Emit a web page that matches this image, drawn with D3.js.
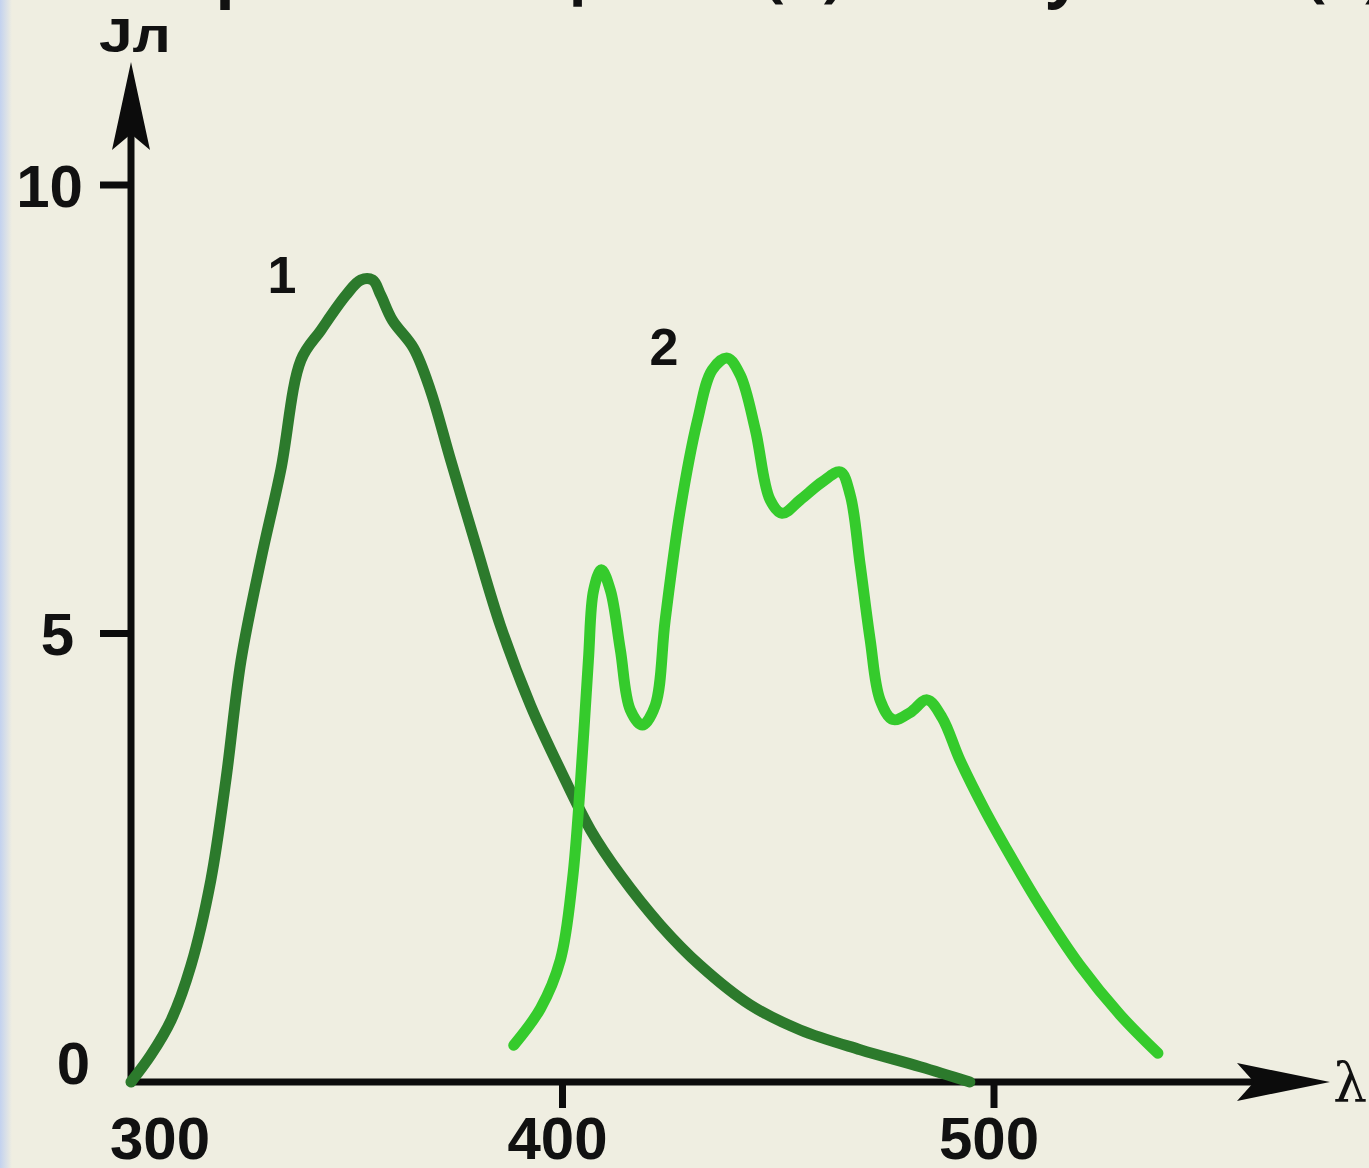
<!DOCTYPE html>
<html>
<head>
<meta charset="utf-8">
<script src="https://cdn.jsdelivr.net/npm/d3@7"></script>
<style>
  html, body { margin: 0; padding: 0; background: #efeee1; }
  svg { display: block; }
  text { font-family: "Liberation Sans", Arial, sans-serif; font-weight: bold; fill: #111; }
</style>
</head>
<body>
<script>
// data: wavelength (nm) vs intensity
var lambda1 = [300, 304.6, 309.3, 313.9, 318.5, 322, 325.5, 330.1, 334.7, 339.4, 344, 349.8, 353.2, 356, 357.9, 360.6, 365.5, 369.4, 374.1, 379.9, 385.6, 392.6, 399.5, 406.5, 413.4, 422.7, 431.9, 443.5, 455.1, 469, 482.9, 494.4];
var jl1 = [0, 0.3, 0.69, 1.3, 2.25, 3.37, 4.7, 5.82, 6.82, 8.05, 8.38, 8.77, 8.94, 8.94, 8.77, 8.49, 8.18, 7.71, 6.93, 5.99, 5.09, 4.2, 3.48, 2.81, 2.31, 1.75, 1.3, 0.86, 0.58, 0.36, 0.17, 0];

var lambda2 = [388.7, 394.9, 399.5, 402.3, 404.2, 406, 407.2, 409, 411.1, 413.4, 415.7, 418.5, 421.5, 423.8, 427.3, 431.3, 434.7, 438.2, 441.2, 444.7, 448.1, 450.9, 455.1, 460.2, 464.4, 466.7, 469, 471.3, 473.6, 476.6, 480.6, 484.5, 488, 492.1, 497.9, 503.7, 510.6, 519.9, 529.2, 538];
var jl2 = [0.41, 0.82, 1.36, 2.25, 3.37, 4.7, 5.48, 5.71, 5.48, 4.82, 4.15, 3.98, 4.2, 5.15, 6.38, 7.38, 7.94, 8.07, 7.88, 7.27, 6.49, 6.34, 6.49, 6.69, 6.8, 6.54, 5.76, 4.93, 4.26, 4.04, 4.12, 4.26, 4.06, 3.59, 3.03, 2.53, 1.97, 1.3, 0.75, 0.32];

var xTicks = [300, 400, 500];
var yTicks = [0, 5, 10];
var curveLabels = ["1", "2"];
var labelAt = [[335, 9.0], [423.5, 8.2]];

var W = 1369, H = 1168;
var svg = d3.select("body").append("svg").attr("width", W).attr("height", H);

// slide background + bluish left edge
var defs = svg.append("defs");
var grad = defs.append("linearGradient").attr("id", "edge");
grad.append("stop").attr("offset", "0%").attr("stop-color", "#c3d2ef");
grad.append("stop").attr("offset", "100%").attr("stop-color", "#efeee1");
svg.append("rect").attr("width", W).attr("height", H).attr("fill", "#efeee1");
svg.append("rect").attr("width", 12).attr("height", H).attr("fill", "url(#edge)");

// title of the slide, cut off at the top
svg.append("text").attr("x", 20).attr("y", -6)
  .style("font-family", "'Open Sans', sans-serif").style("font-size", "64px")
  .text("Спектры поглощения (1) и излучения (2)");

var x = d3.scaleLinear().domain([300, 500]).range([131, 994]);
var y = d3.scaleLinear().domain([0, 10]).range([1082, 185]);

var axisColor = "#0c0c0c";
var ax = svg.append("g");

// axis lines
ax.append("line").attr("x1", x(300)).attr("x2", 1300).attr("y1", y(0)).attr("y2", y(0))
  .attr("stroke", axisColor).attr("stroke-width", 7);
ax.append("line").attr("x1", x(300)).attr("x2", x(300)).attr("y1", y(0) + 3).attr("y2", 110)
  .attr("stroke", axisColor).attr("stroke-width", 7);

// barbed arrow heads
var ox = x(300), oy = y(0);
ax.append("path").attr("fill", axisColor)
  .attr("d", "M" + (ox - 19) + ",150 L" + ox + ",62 L" + (ox + 19) + ",150 L" + ox + ",134 Z");
ax.append("path").attr("fill", axisColor)
  .attr("d", "M1237," + (oy - 19) + " L1330," + oy + " L1237," + (oy + 19) + " L1254," + oy + " Z");

// y ticks
yTicks.filter(function(d) { return d > 0; }).forEach(function(t) {
  ax.append("line").attr("x1", ox - 31).attr("x2", ox).attr("y1", y(t)).attr("y2", y(t))
    .attr("stroke", axisColor).attr("stroke-width", 7);
});
var yLabelX = {0: 90, 5: 74, 10: 83};
var yLabelY = {0: y(0) - 20, 5: y(5), 10: y(10)};
yTicks.forEach(function(t) {
  ax.append("text").text(t).attr("x", yLabelX[t]).attr("y", yLabelY[t])
    .attr("text-anchor", "end").attr("dy", "0.36em").style("font-size", "60px");
});

// x ticks
xTicks.filter(function(d) { return d > 300; }).forEach(function(t) {
  ax.append("line").attr("x1", x(t)).attr("x2", x(t)).attr("y1", oy).attr("y2", oy + 26)
    .attr("stroke", axisColor).attr("stroke-width", 7);
});
xTicks.forEach(function(t) {
  ax.append("text").text(t).attr("x", x(t) + (t == 300 ? 29 : -5)).attr("y", 1159)
    .attr("text-anchor", "middle").style("font-size", "60px");
});

// axis titles
ax.append("text").attr("x", 99).attr("y", 52).style("font-size", "48px")
  .text("Jл").attr("textLength", 72).attr("lengthAdjust", "spacingAndGlyphs");
ax.append("text").attr("x", 1333).attr("y", 1101).style("font-family", "'DejaVu Serif', serif")
  .style("font-weight", "normal").style("font-size", "54px").text("λ");

// curves
var line = d3.line().x(function(d) { return x(d[0]); }).y(function(d) { return y(d[1]); })
  .curve(d3.curveCatmullRom.alpha(0.5));

svg.append("path").datum(d3.zip(lambda1, jl1)).attr("d", line)
  .attr("fill", "none").attr("stroke", "#2c7a2c").attr("stroke-width", 11)
  .attr("stroke-linecap", "round").attr("stroke-linejoin", "round");
svg.append("path").datum(d3.zip(lambda2, jl2)).attr("d", line)
  .attr("fill", "none").attr("stroke", "#35cb2c").attr("stroke-width", 11)
  .attr("stroke-linecap", "round").attr("stroke-linejoin", "round");

curveLabels.forEach(function(c, i) {
  svg.append("text").text(c).attr("x", x(labelAt[i][0])).attr("y", y(labelAt[i][1]))
    .attr("text-anchor", "middle").attr("dy", "0.36em").style("font-size", "52px");
});
</script>
</body>
</html>
